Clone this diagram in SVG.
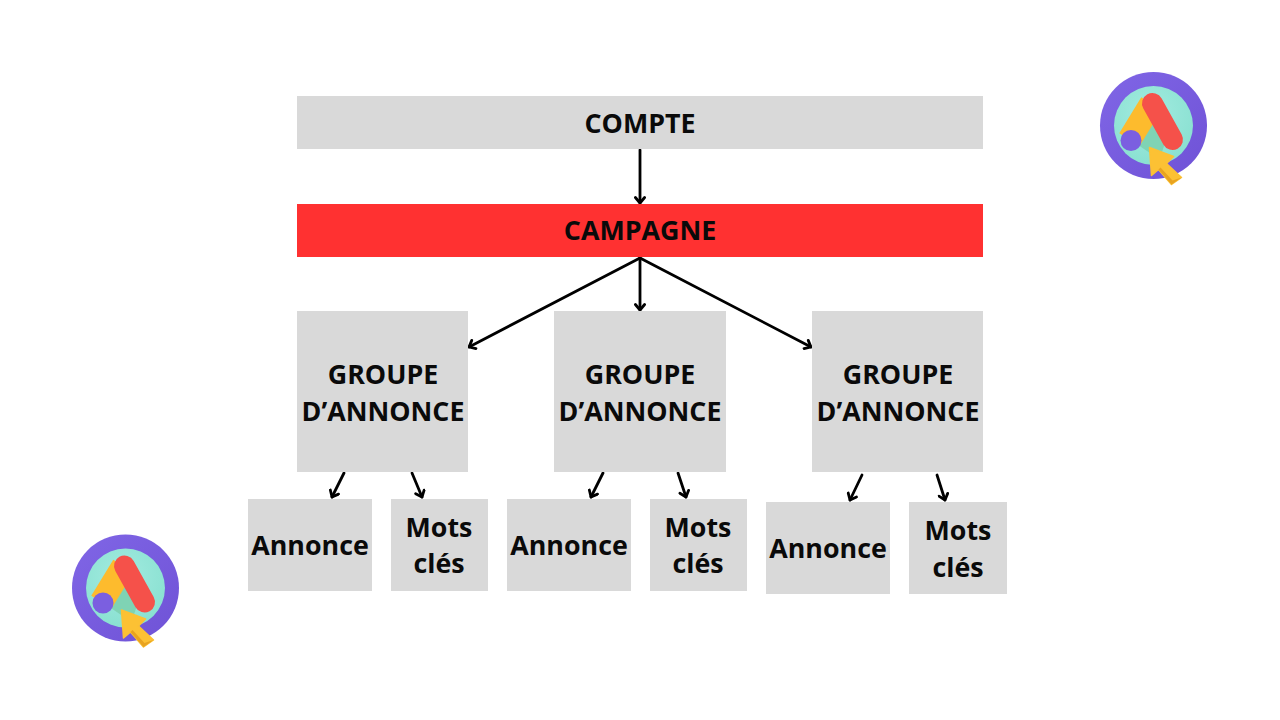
<svg xmlns="http://www.w3.org/2000/svg" width="1280" height="720" viewBox="0 0 1280 720">
<style>
.box{fill:#d9d9d9}
.t{font-family:"Open Sans","Liberation Sans",sans-serif;font-weight:700;font-size:26.8px;fill:#0a0a0a;text-anchor:middle}
.c line{stroke:#000;stroke-width:2.8;stroke-linecap:round;marker-end:url(#a)}
</style>
<defs>
<marker id="a" viewBox="-8 -6 10 12" refX="0" refY="0" markerWidth="10" markerHeight="12" markerUnits="userSpaceOnUse" orient="auto"><path d="M-5.5 -4.6L0 0L-5.5 4.6" fill="none" stroke="#000" stroke-width="2.8" stroke-linecap="round" stroke-linejoin="round"/></marker>
<radialGradient id="bg" cx="0.45" cy="0.35" r="0.75"><stop offset="0" stop-color="#a2ebe0"/><stop offset="1" stop-color="#86dfcf"/></radialGradient>
<linearGradient id="ring" x1="0" y1="0" x2="1" y2="1"><stop offset="0" stop-color="#8066e6"/><stop offset="1" stop-color="#6f52d6"/></linearGradient>
<g id="icon">
<circle r="53.500" fill="url(#ring)"/>
<circle r="39.500" fill="url(#bg)"/>
<path d="M-22 15L2 -26L14 10L6 34Z" fill="#7fd3b4"/>
<path d="M-2 -22L-24 14" stroke="#fdbb2d" stroke-width="24" fill="none"/>
<path d="M-1 -22L19 14" stroke="#f5514a" stroke-width="21" stroke-linecap="round" fill="none"/>
<circle cx="-22.500" cy="15" r="10.500" fill="#7b5fe0"/>
<path d="M-4 22L20 31L13 38L28 52L18 59L5 44L-2 50Z" fill="#fcc134" stroke="#fcc134" stroke-width="1.500" stroke-linejoin="round"/>
<path d="M28 52L18 59L5 44L7 42L19 55Z" fill="#e8a320"/>
</g>
</defs>
<rect width="1280" height="720" fill="#fff"/>
<g class="c" id="connectors">
<line x1="640" y1="150" x2="640" y2="203"/>
<line x1="640" y1="258" x2="640" y2="310"/>
<line x1="640" y1="258" x2="469" y2="347"/>
<line x1="640" y1="258" x2="811" y2="347"/>
<line x1="344" y1="473" x2="332" y2="497"/>
<line x1="412" y1="473" x2="422" y2="497"/>
<line x1="603" y1="473" x2="591" y2="497"/>
<line x1="678" y1="473" x2="686" y2="497"/>
<line x1="862" y1="475" x2="850" y2="500"/>
<line x1="937" y1="475" x2="945" y2="500"/>
</g>
<g id="compte"><rect class="box" x="297" y="96" width="686" height="53"/><text class="t" x="640" y="133">COMPTE</text></g>
<g id="campagne"><rect x="297" y="204" width="686" height="53" fill="#ff3131"/><text class="t" x="640" y="240">CAMPAGNE</text></g>
<g id="groupe1"><rect class="box" x="297" y="311" width="171" height="161"/><text class="t" x="383" y="384">GROUPE</text><text class="t" x="383" y="421">D’ANNONCE</text></g>
<g id="groupe2"><rect class="box" x="554" y="311" width="172" height="161"/><text class="t" x="640" y="384">GROUPE</text><text class="t" x="640" y="421">D’ANNONCE</text></g>
<g id="groupe3"><rect class="box" x="812" y="311" width="171" height="161"/><text class="t" x="898" y="384">GROUPE</text><text class="t" x="898" y="421">D’ANNONCE</text></g>
<g id="annonce1"><rect class="box" x="248" y="499" width="124" height="92"/><text class="t" x="310" y="555">Annonce</text></g>
<g id="mots1"><rect class="box" x="391" y="499" width="97" height="92"/><text class="t" x="439" y="537">Mots</text><text class="t" x="439" y="573">clés</text></g>
<g id="annonce2"><rect class="box" x="507" y="499" width="124" height="92"/><text class="t" x="569" y="555">Annonce</text></g>
<g id="mots2"><rect class="box" x="650" y="499" width="97" height="92"/><text class="t" x="698" y="537">Mots</text><text class="t" x="698" y="573">clés</text></g>
<g id="annonce3"><rect class="box" x="766" y="502" width="124" height="92"/><text class="t" x="828" y="558">Annonce</text></g>
<g id="mots3"><rect class="box" x="909" y="502" width="98" height="92"/><text class="t" x="958" y="540">Mots</text><text class="t" x="958" y="577">clés</text></g>
<g id="logo1"><use href="#icon" x="1153.500" y="125.500"/></g>
<g id="logo2"><use href="#icon" x="125.500" y="588"/></g>
</svg>
